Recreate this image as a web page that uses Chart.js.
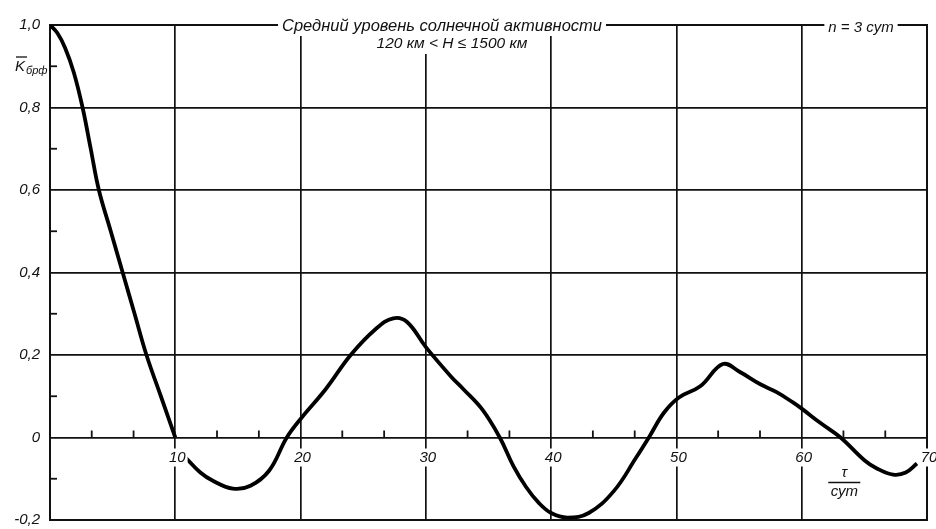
<!DOCTYPE html>
<html>
<head>
<meta charset="utf-8">
<script src="https://cdn.jsdelivr.net/npm/chart.js@4"></script>
<style>
  html, body { margin: 0; padding: 0; background: #fff; }
  #wrap { width: 936px; height: 529px; position: relative; }
</style>
</head>
<body>
<div id="wrap"><canvas id="myChart" width="936" height="529"></canvas></div>
<script>
// --- DATA ---
// first branch: from tau = 0 down to the zero crossing at 10
const tau1 = [0, 0.6, 1.2, 1.9, 2.6, 3.25, 3.9, 4.85, 5.8, 6.75, 7.7, 8.85, 10];
const k1   = [1.0, 0.98, 0.945, 0.885, 0.8, 0.7, 0.6, 0.5, 0.4, 0.3, 0.2, 0.1, 0];

// second branch: restarts just after the "10" label
const tau2 = [10.8, 12, 13, 14.6, 16, 17.5, 18.9, 20, 22, 24, 26, 27.4, 28.5, 30, 32, 33, 34.5, 35.9,
              37, 38, 39, 40, 41.3, 43, 45, 46.8, 47.8, 49, 50.2, 51.9, 53.7, 55, 56.7, 58, 59.3,
              60, 61.5, 63.1, 65, 66, 67.3, 68.3, 69.2];
const k2   = [-0.048, -0.085, -0.105, -0.124, -0.117, -0.08, 0, 0.045, 0.117, 0.2, 0.263, 0.289, 0.28, 0.219, 0.148, 0.117, 0.068, 0,
              -0.07, -0.12, -0.158, -0.183, -0.194, -0.183, -0.13, -0.048, 0, 0.06, 0.097, 0.124, 0.178, 0.16, 0.129, 0.11, 0.085,
              0.07, 0.035, 0, -0.055, -0.075, -0.09, -0.085, -0.063];

const xTicks = [10, 20, 30, 40, 50, 60, 70];
const xMinor = [3.33, 6.67, 13.33, 16.67, 23.33, 26.67, 33.33, 36.67, 43.33, 46.67, 53.33, 56.67, 63.33, 66.67];
const yMinor = [-0.1, 0.1, 0.3, 0.5, 0.7, 0.9];

const titleLine1 = 'Средний уровень солнечной активности';
const titleLine2 = '120 км < H ≤ 1500 км';
const nLabel = 'n = 3 сут';

const FONT = "'Liberation Sans', 'DejaVu Sans', sans-serif";

const toPts = (xs, ys) => xs.map((x, i) => ({ x: x, y: ys[i] }));

// --- custom drawing: minor ticks, x labels on the zero line, captions ---
const decor = {
    id: 'decor',
    afterDraw(chart) {
        const ctx = chart.ctx;
        const xs = chart.scales.x;
        const ys = chart.scales.y;
        const area = chart.chartArea;
        const y0 = ys.getPixelForValue(0);

        ctx.save();
        ctx.strokeStyle = '#111';
        ctx.lineWidth = 1.8;

        // minor ticks on the zero line (pointing up)
        xMinor.forEach(v => {
            const px = xs.getPixelForValue(v);
            ctx.beginPath();
            ctx.moveTo(px, y0);
            ctx.lineTo(px, y0 - 7);
            ctx.stroke();
        });
        // minor ticks on the left axis (pointing in)
        yMinor.forEach(v => {
            const py = ys.getPixelForValue(v);
            ctx.beginPath();
            ctx.moveTo(area.left, py);
            ctx.lineTo(area.left + 7, py);
            ctx.stroke();
        });

        // x tick labels just under the zero line
        ctx.font = 'italic 15px ' + FONT;
        ctx.textAlign = 'center';
        ctx.textBaseline = 'middle';
        xTicks.forEach(v => {
            const px = xs.getPixelForValue(v) + 2;
            const w = ctx.measureText(String(v)).width;
            ctx.fillStyle = '#fff';
            ctx.fillRect(px - w / 2 - 2, y0 + 11, w + 4, 18);
            ctx.fillStyle = '#111';
            ctx.fillText(String(v), px, y0 + 20);
        });

        // axis caption tau / сут
        const cx = xs.getPixelForValue(63.4);
        ctx.font = 'italic 15px ' + FONT;
        ctx.fillText('τ', cx, y0 + 35);
        ctx.beginPath();
        ctx.moveTo(cx - 16, y0 + 45);
        ctx.lineTo(cx + 16, y0 + 45);
        ctx.lineWidth = 1.3;
        ctx.stroke();
        ctx.fillText('сут', cx, y0 + 54);

        // title over the top border
        ctx.font = 'italic 16.5px ' + FONT;
        const t1 = ctx.measureText(titleLine1).width;
        const tx = 442;
        ctx.fillStyle = '#fff';
        ctx.fillRect(tx - t1 / 2 - 4, area.top - 10, t1 + 8, 21);
        ctx.fillStyle = '#111';
        ctx.fillText(titleLine1, tx, area.top + 1);
        ctx.font = 'italic 15.5px ' + FONT;
        const t2 = ctx.measureText(titleLine2).width;
        ctx.fillStyle = '#fff';
        ctx.fillRect(452 - t2 / 2 - 3, area.top + 11, t2 + 6, 18);
        ctx.fillStyle = '#111';
        ctx.fillText(titleLine2, 452, area.top + 19);

        // n = 3 сут at top right
        ctx.font = 'italic 15px ' + FONT;
        const t3 = ctx.measureText(nLabel).width;
        ctx.fillStyle = '#fff';
        ctx.fillRect(861 - t3 / 2 - 4, area.top - 10, t3 + 8, 20);
        ctx.fillStyle = '#111';
        ctx.fillText(nLabel, 861, area.top + 3);

        // y axis caption: K (overline) with subscript
        ctx.textAlign = 'left';
        ctx.font = 'italic 15px ' + FONT;
        ctx.fillText('K', 15, 67);
        ctx.beginPath();
        ctx.moveTo(16, 57);
        ctx.lineTo(27, 57);
        ctx.lineWidth = 1.3;
        ctx.stroke();
        ctx.font = 'italic 11px ' + FONT;
        ctx.fillText('брф', 26, 71);

        ctx.restore();
    }
};

const ctx = document.getElementById('myChart').getContext('2d');
new Chart(ctx, {
    type: 'line',
    data: {
        datasets: [
            { data: toPts(tau1, k1) },
            { data: toPts(tau2, k2) }
        ]
    },
    options: {
        responsive: false,
        animation: false,
        layout: { padding: { top: 25, right: 9, bottom: 0, left: 0 } },
        elements: {
            line: { borderColor: '#000', borderWidth: 3.8, tension: 0.4, fill: false },
            point: { radius: 0 }
        },
        plugins: {
            legend: { display: false },
            tooltip: { enabled: false }
        },
        scales: {
            x: {
                type: 'linear',
                min: 0,
                max: 70,
                ticks: { display: false, stepSize: 10 },
                grid: { color: '#111', lineWidth: 1.7, drawTicks: false },
                border: { color: '#111', width: 2 },
                afterFit(scale) { scale.height = 9; scale.paddingLeft = 0; scale.paddingRight = 0; }
            },
            y: {
                min: -0.2,
                max: 1.0,
                ticks: {
                    stepSize: 0.2,
                    color: '#111',
                    padding: 10,
                    font: { family: FONT, size: 15, style: 'italic' },
                    callback: v => (Math.abs(v) < 1e-9 ? '0' : v.toFixed(1).replace('.', ','))
                },
                grid: { color: '#111', lineWidth: 1.7, drawTicks: false },
                border: { color: '#111', width: 2 },
                afterFit(scale) { scale.width = 50; scale.paddingTop = 0; scale.paddingBottom = 0; }
            },
            x2: {
                type: 'linear',
                position: 'top',
                min: 0,
                max: 70,
                ticks: { display: false },
                grid: { display: false, drawTicks: false },
                border: { color: '#111', width: 2 },
                afterFit(scale) { scale.height = 0; }
            },
            y2: {
                position: 'right',
                min: -0.2,
                max: 1.0,
                ticks: { display: false },
                grid: { display: false, drawTicks: false },
                border: { color: '#111', width: 2 },
                afterFit(scale) { scale.width = 0; scale.paddingTop = 0; scale.paddingBottom = 0; }
            }
        }
    },
    plugins: [decor]
});
</script>
</body>
</html>
